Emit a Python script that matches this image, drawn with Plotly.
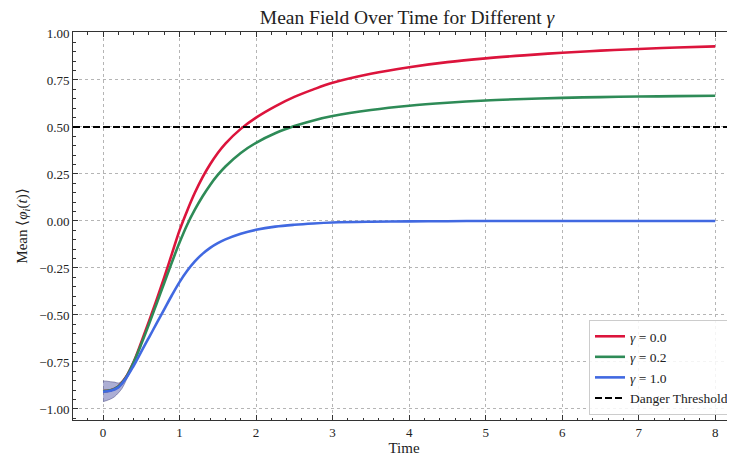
import plotly.graph_objects as go

# ---- data ----
time = [0, 0.1, 0.2, 0.3, 0.4, 0.5, 0.6, 0.7, 0.8, 0.9, 1.0, 1.1, 1.2, 1.3, 1.4, 1.5, 1.6,
        1.8, 2.0, 2.25, 2.5, 2.75, 3.0, 3.5, 4.0, 4.5, 5.0, 5.5, 6.0, 6.5, 7.0, 7.5, 8.0]

mean_g00 = [-0.905, -0.900, -0.880, -0.830, -0.750, -0.645, -0.535, -0.420, -0.300, -0.175,
            -0.050, 0.055, 0.150, 0.232, 0.302, 0.362, 0.412, 0.490, 0.550, 0.610, 0.660,
            0.700, 0.735, 0.783, 0.818, 0.845, 0.865, 0.881, 0.895, 0.906, 0.915, 0.923, 0.929]

mean_g02 = [-0.905, -0.900, -0.880, -0.832, -0.752, -0.655, -0.550, -0.440, -0.330, -0.220,
            -0.115, -0.020, 0.060, 0.130, 0.192, 0.245, 0.290, 0.362, 0.416, 0.467, 0.505,
            0.535, 0.558, 0.590, 0.613, 0.629, 0.641, 0.649, 0.655, 0.659, 0.662, 0.664, 0.666]

mean_g10 = [-0.908, -0.903, -0.885, -0.837, -0.770, -0.695, -0.620, -0.545, -0.470, -0.395,
            -0.325, -0.265, -0.215, -0.175, -0.143, -0.118, -0.098, -0.068, -0.047, -0.030,
            -0.020, -0.013, -0.008, -0.004, -0.002, -0.001, 0.000, 0.000, 0.000, 0.000,
            0.000, 0.000, 0.000]

band_time = [0, 0.05, 0.1, 0.15, 0.2, 0.25, 0.3, 0.35]
band_upper = [-0.851, -0.852, -0.855, -0.857, -0.862, -0.850, -0.825, -0.798]
band_lower = [-0.961, -0.955, -0.947, -0.935, -0.915, -0.890, -0.850, -0.808]

threshold = 0.5

series_names = ["<i>γ</i> = 0.0", "<i>γ</i> = 0.2", "<i>γ</i> = 1.0"]
series_colors = ["#DC143C", "#2E8B57", "#4169E1"]

x_ticks = [0, 1, 2, 3, 4, 5, 6, 7, 8]
y_ticks = [-1.0, -0.75, -0.5, -0.25, 0.0, 0.25, 0.5, 0.75, 1.0]

FONT = "Liberation Serif"

# the page body has an 8px margin; size the figure so the plot lands where the reference has it
W, H = 727, 448
OFF = 8

fig = go.Figure()

# shaded band (blue)
fig.add_trace(go.Scatter(x=band_time, y=band_upper, mode="lines",
                         line=dict(width=0.8, color="rgba(60,60,120,0.6)", shape="spline"),
                         showlegend=False, hoverinfo="skip"))
fig.add_trace(go.Scatter(x=band_time, y=band_lower, mode="lines", fill="tonexty",
                         fillcolor="rgba(70,75,160,0.45)",
                         line=dict(width=0.8, color="rgba(60,60,120,0.6)", shape="spline"),
                         showlegend=False, hoverinfo="skip"))

for name, col, vals in zip(series_names, series_colors, [mean_g00, mean_g02, mean_g10]):
    fig.add_trace(go.Scatter(x=time, y=vals, mode="lines", name=name,
                             line=dict(color=col, width=2.6, shape="spline", smoothing=1.0)))

fig.add_hline(y=threshold, line=dict(color="black", width=2, dash="7px,3px"))
fig.add_trace(go.Scatter(x=[None], y=[None], mode="lines", name="Danger Threshold",
                         line=dict(color="black", width=2, dash="7px,3px")))

axis_common = dict(
    showline=True, linecolor="#333333", linewidth=1,
    ticks="inside", ticklen=5, tickwidth=1, tickcolor="#333333",
    showgrid=True, gridcolor="#b5b5b5", gridwidth=0.8, griddash="dot",
    zeroline=False,
    tickfont=dict(family=FONT, size=13, color="#222222"),
)

fig.update_xaxes(**axis_common, range=[-0.392, 8.258], tickvals=x_ticks, mirror="allticks",
                 minor=dict(dtick=0.2, ticks="inside", ticklen=2.5, tickwidth=0.8,
                            tickcolor="#333333", showgrid=False),
                 title=dict(text="Time", font=dict(family=FONT, size=15, color="#222222"),
                            standoff=2))
fig.update_yaxes(**axis_common, range=[-1.0586, 1.0053], tickvals=y_ticks, tickformat=".2f",
                 mirror=False,
                 minor=dict(dtick=0.05, ticks="inside", ticklen=2.5, tickwidth=0.8,
                            tickcolor="#333333", showgrid=False),
                 title=dict(text="Mean ⟨<i>φ</i><sub><i>i</i></sub>(<i>t</i>)⟩",
                            font=dict(family=FONT, size=15, color="#222222"), standoff=8))

plot_l, plot_t, plot_b = 73 - OFF, 32 - OFF, 36
plot_w = W - plot_l
plot_h = H - plot_t - plot_b

fig.update_layout(
    width=W, height=H,
    margin=dict(l=plot_l, r=0, t=plot_t, b=plot_b, autoexpand=False),
    paper_bgcolor="white", plot_bgcolor="white",
    title=dict(text="Mean Field Over Time for Different <i>γ</i>",
               font=dict(family=FONT, size=19.5, color="#222222"),
               x=(407 - OFF) / W, xref="container", xanchor="center",
               y=1 - (17 - OFF) / H, yref="container", yanchor="middle"),
    legend=dict(x=(589 - 73) / plot_w, y=(420 - 415) / plot_h, xanchor="left", yanchor="bottom",
                bgcolor="rgba(255,255,255,0.85)", bordercolor="#cccccc", borderwidth=1,
                font=dict(family=FONT, size=13.5, color="#222222"),
                traceorder="normal", tracegroupgap=0, itemwidth=30),
    showlegend=True,
)

fig.write_html("out.html")
